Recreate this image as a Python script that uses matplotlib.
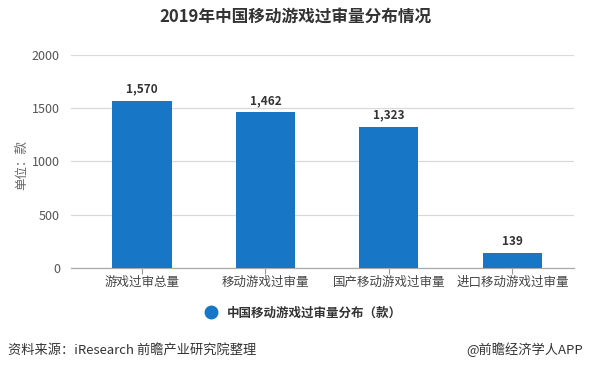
import matplotlib
matplotlib.use("Agg")
import matplotlib.pyplot as plt
from matplotlib.lines import Line2D

plt.rcParams['font.family'] = ['Noto Sans CJK SC', 'DejaVu Sans']

categories = ["游戏过审总量", "移动游戏过审量", "国产移动游戏过审量", "进口移动游戏过审量"]
values = [1570, 1462, 1323, 139]
yticks = [0, 500, 1000, 1500, 2000]
title = "2019年中国移动游戏过审量分布情况"
legend_label = "中国移动游戏过审量分布（款）"
ylabel = "单位：款"
source = "资料来源：iResearch 前瞻产业研究院整理"
credit = "@前瞻经济学人APP"

W, H = 589, 369
fig = plt.figure(figsize=(W / 100, H / 100), dpi=100)
ax = fig.add_axes([71 / W, 1 - 268 / H, (574 - 71) / W, (268 - 55) / H])

color = "#1777c6"
x = list(range(len(categories)))
bars = ax.bar(x, values, width=0.48, color=color, zorder=3)
for xi, v in zip(x, values):
    ax.text(xi, v + 50, f"{v:,}", ha="center", va="bottom", fontsize=8.5,
            fontweight="bold", color="#333333")

ax.set_xlim(-0.575, 3.5)
ax.set_ylim(0, 2000)
ax.set_yticks(yticks)
ax.set_yticklabels([str(t) for t in yticks], fontsize=9, color="#555555")
ax.set_xticks(x)
ax.set_xticklabels(categories, fontsize=9, color="#444444")
ax.tick_params(axis="y", length=0, pad=8)
ax.tick_params(axis="x", length=4, color="#999999", pad=2)
ax.grid(axis="y", color="#d9d9d9", linewidth=0.9, zorder=0)
for s in ["top", "right", "left"]:
    ax.spines[s].set_visible(False)
ax.spines["bottom"].set_color("#aaaaaa")
ax.spines["bottom"].set_linewidth(0.9)

fig.text(22 / W, 1 - 165 / H, ylabel, rotation=90, ha="center", va="center",
         fontsize=9, color="#666666")
fig.text(295 / W, 1 - 18 / H, title, ha="center", va="center", fontsize=12,
         fontweight="bold", color="#333333")

handle = Line2D([], [], marker="o", linestyle="none", markersize=9,
                markerfacecolor=color, markeredgecolor=color)
fig.legend([handle], [legend_label], loc="center", bbox_to_anchor=(300 / W, 1 - 313 / H),
           frameon=False, prop={"size": 9, "weight": "bold"}, handletextpad=0.3,
           labelcolor="#333333")

fig.text(8 / W, 1 - 350 / H, source, ha="left", va="center", fontsize=9.5, color="#333333")
fig.text(583 / W, 1 - 350 / H, credit, ha="right", va="center", fontsize=9.5, color="#333333")

fig.savefig("out.png", dpi=100)
